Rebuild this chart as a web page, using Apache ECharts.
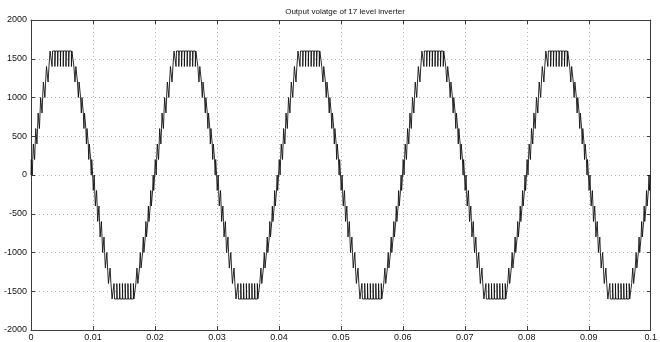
<!DOCTYPE html>
<html>
<head>
<meta charset="utf-8">
<title>Output volatge of 17 level inverter</title>
<script src="https://cdn.jsdelivr.net/npm/echarts@6/dist/echarts.min.js"></script>
<style>
  html, body { margin: 0; padding: 0; background: #fff; }
  #chart { width: 660px; height: 342px; }
</style>
</head>
<body>
<div id="chart"></div>
<script>
/**
 * 17 level inverter output (5 cycles of 50 Hz)
 * Values: one rising quarter of the positive half-wave,
 * switch instants in ms and the level held from that instant on.
 */

// switch instants (ms) for the rising quarter, 0 .. 5 ms
const riseTimes = [
  0.00, 0.05, 0.20, 0.28,
  0.38, 0.58, 0.68,
  0.76, 0.96, 1.06,
  1.15, 1.36, 1.46,
  1.56, 1.78, 1.88,
  2.00, 2.24, 2.36,
  2.50, 2.76, 2.90,
  3.08, 3.40, 3.48, 3.85, 3.92, 4.30, 4.36, 4.75, 4.80
]

// level (V) held from each instant above
const riseLevels = [
  0, 200, 0, 200,
  400, 200, 400,
  600, 400, 600,
  800, 600, 800,
  1000, 800, 1000,
  1200, 1000, 1200,
  1400, 1200, 1400,
  1600, 1400, 1600, 1400, 1600, 1400, 1600, 1400, 1600
]

const quarterMs = 5
const cyclesShown = 5

// tick labels
const xTicks = ['0', '0.01', '0.02', '0.03', '0.04', '0.05', '0.06', '0.07', '0.08', '0.09', '0.1']
const yTicks = ['-2000', '-1500', '-1000', '-500', '0', '500', '1000', '1500', '2000']

// positive half-wave: rising quarter then the same steps mirrored
function halfWave() {
  const pts = riseTimes.map((t, i) => [t, riseLevels[i]])
  const n = riseTimes.length
  for (let i = n - 1; i >= 0; i--) {
    const next = i + 1 < n ? riseTimes[i + 1] : quarterMs
    pts.push([2 * quarterMs - next, riseLevels[i]])
  }
  return pts
}

// whole trace, times in seconds
function buildTrace() {
  const half = halfWave()
  const data = []
  for (let c = 0; c < cyclesShown; c++) {
    const base = c * 4 * quarterMs
    half.forEach(p => data.push([(base + p[0]) / 1000, p[1]]))
    half.forEach(p => data.push([(base + 2 * quarterMs + p[0]) / 1000, -p[1]]))
  }
  data.push([0.1, 0])
  return data
}

const chart = echarts.init(document.getElementById('chart'), null, { renderer: 'canvas' })

const font = 'Liberation Sans, Arial, sans-serif'
const frameColor = '#3c3c3c'
const gridLine = { show: true, lineStyle: { color: '#b4b4b4', type: [1, 3], width: 1 } }
const ticksIn = { show: true, inside: true, length: 4, lineStyle: { color: frameColor } }

chart.setOption({
  animation: false,
  backgroundColor: '#fff',
  title: {
    text: 'Output volatge of 17 level inverter',
    left: 340,
    top: 3,
    textAlign: 'center',
    textStyle: { fontSize: 8, fontWeight: 'normal', color: '#111', fontFamily: font }
  },
  grid: { left: 31, right: 6, top: 20, bottom: 11, containLabel: false },
  xAxis: [
    {
      type: 'value', min: 0, max: 0.1, interval: 0.01,
      axisLine: { show: true, onZero: false, lineStyle: { color: frameColor } },
      axisTick: ticksIn,
      axisLabel: {
        color: '#111', fontSize: 9, fontFamily: font, margin: 3,
        formatter: v => xTicks[Math.round(v * 100)]
      },
      splitLine: gridLine
    },
    {
      type: 'value', position: 'top', min: 0, max: 0.1, interval: 0.01,
      axisLine: { show: true, onZero: false, lineStyle: { color: frameColor } },
      axisTick: ticksIn,
      axisLabel: { show: false },
      splitLine: { show: false }
    }
  ],
  yAxis: [
    {
      type: 'value', min: -2000, max: 2000, interval: 500,
      axisLine: { show: true, onZero: false, lineStyle: { color: frameColor } },
      axisTick: ticksIn,
      axisLabel: {
        color: '#111', fontSize: 9, fontFamily: font, margin: 4,
        formatter: v => yTicks[Math.round((v + 2000) / 500)]
      },
      splitLine: gridLine
    },
    {
      type: 'value', position: 'right', min: -2000, max: 2000, interval: 500,
      axisLine: { show: true, onZero: false, lineStyle: { color: frameColor } },
      axisTick: ticksIn,
      axisLabel: { show: false },
      splitLine: { show: false }
    }
  ],
  series: [
    {
      type: 'line',
      xAxisIndex: 0,
      yAxisIndex: 0,
      step: 'end',
      showSymbol: false,
      symbol: 'none',
      data: buildTrace(),
      lineStyle: { color: '#111', width: 0.9 }
    }
  ]
})
</script>
</body>
</html>
